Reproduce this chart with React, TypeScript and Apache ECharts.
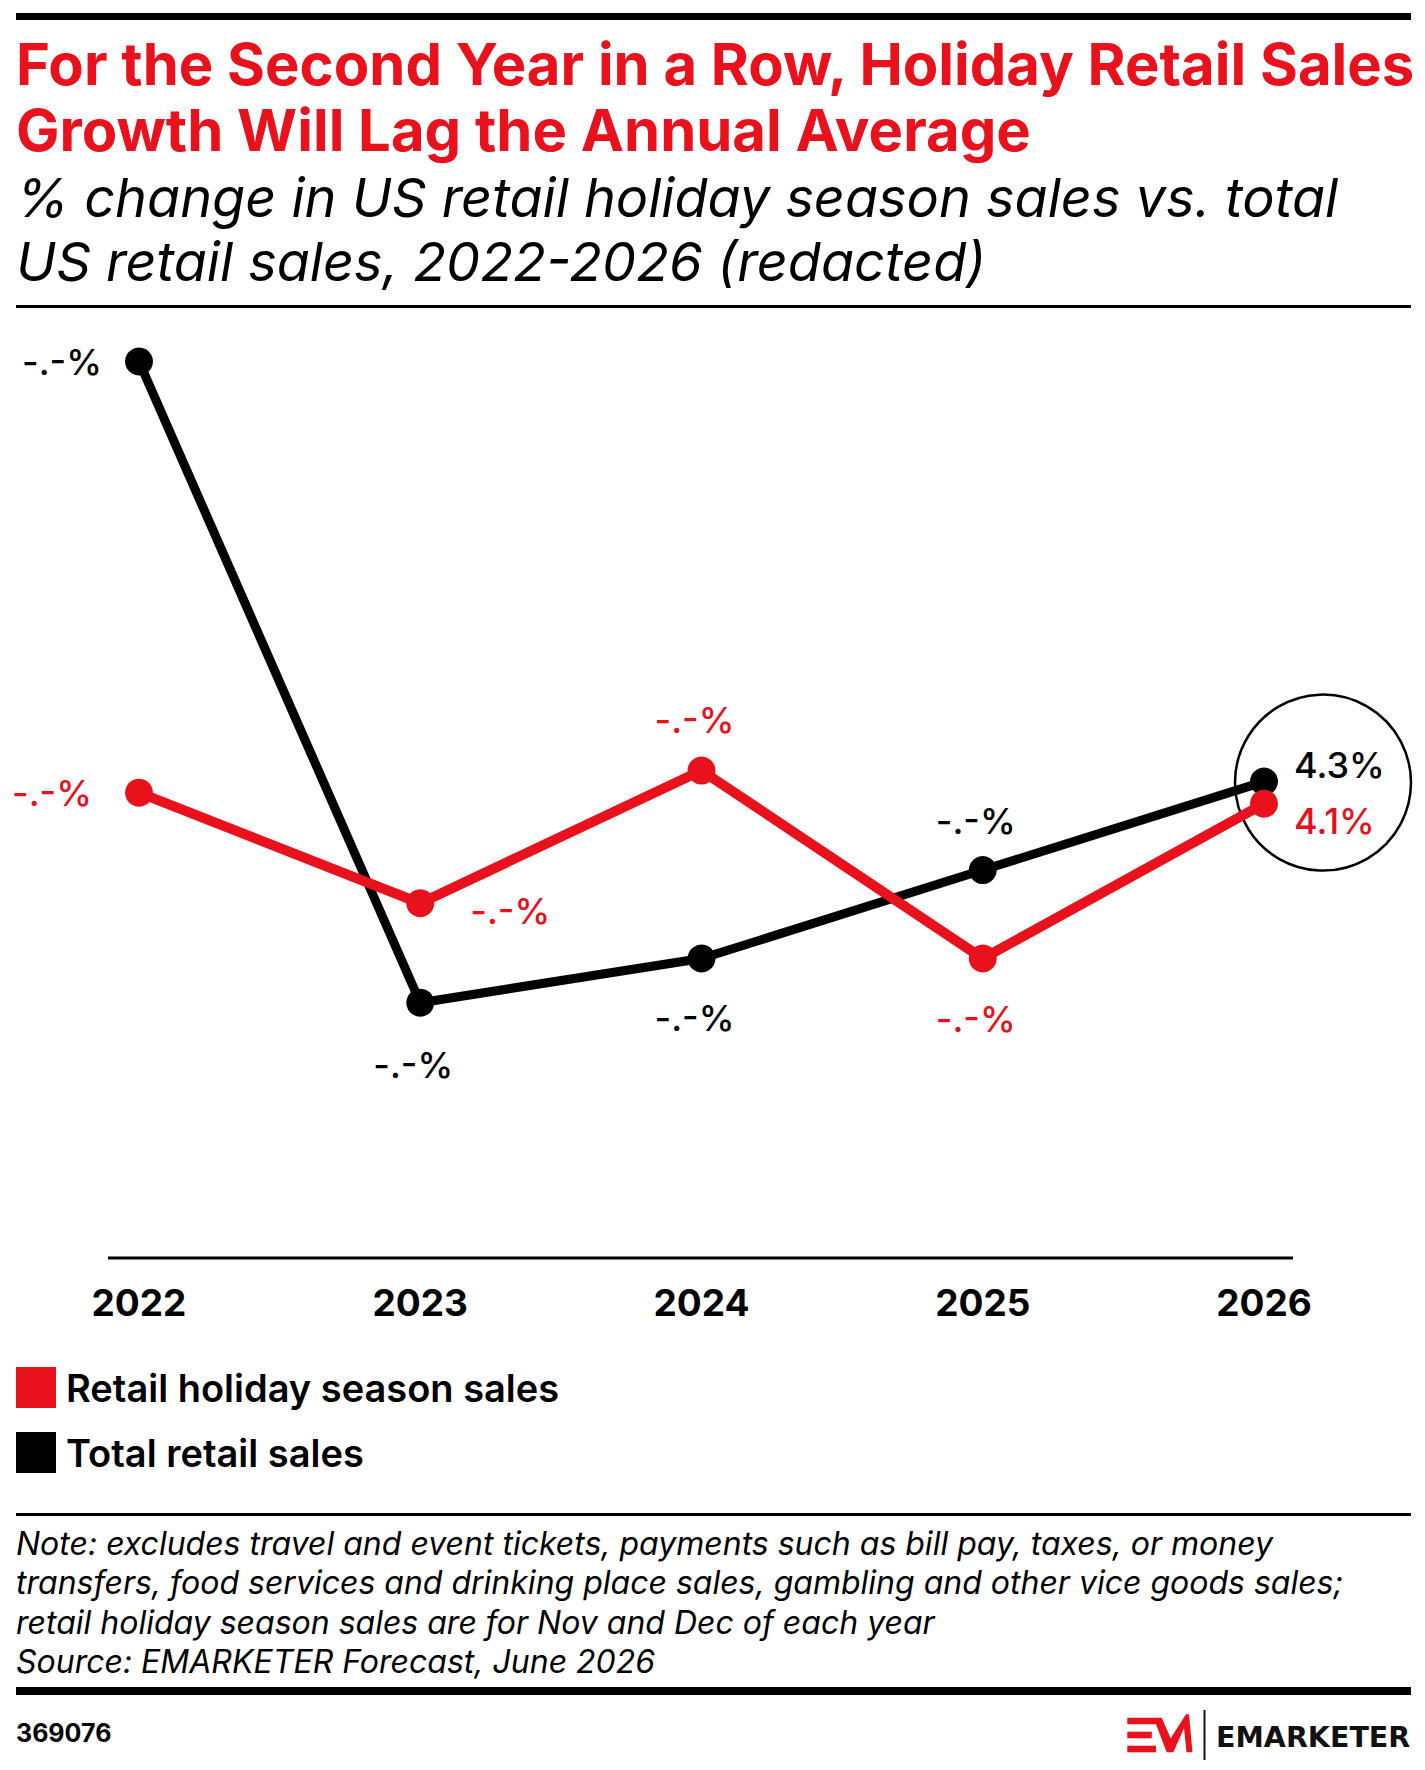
import React, { useEffect, useRef } from "react";
import * as echarts from "echarts";

// ---- data -------------------------------------------------------------
const years = ["2022", "2023", "2024", "2025", "2026"];
const holidaySales = [4.2, 3.2, 4.4, 2.7, 4.1];
const totalSales = [8.1, 2.3, 2.7, 3.5, 4.3];
// only the last forecast year is published, earlier values are redacted
const publishedYear = "2026";
const redactedLabel = "-.-%";
const seriesNames = ["Retail holiday season sales", "Total retail sales"];

const titleLines = [
  "For the Second Year in a Row, Holiday Retail Sales",
  "Growth Will Lag the Annual Average",
];
const subtitleLines = [
  "% change in US retail holiday season sales vs. total",
  "US retail sales, 2022-2026 (redacted)",
];
const noteLines = [
  "Note: excludes travel and event tickets, payments such as bill pay, taxes, or money",
  "transfers, food services and drinking place sales, gambling and other vice goods sales;",
  "retail holiday season sales are for Nov and Dec of each year",
  "Source: EMARKETER Forecast, June 2026",
];
const chartNumber = "369076";
const brandName = "EMARKETER";

// ---- styling ----------------------------------------------------------
const RED = "#e8111c";
const INK = "#000000";
const FONT = "Inter, 'Noto Sans', sans-serif";
const W = 1425;
const H = 1770;

type Place = { position: string; distance: number; offset?: number[] };
const holidayPlaces: Place[] = [
  { position: "left", distance: 33 },
  { position: "right", distance: 36, offset: [0, 8] },
  { position: "top", distance: 19, offset: [-7, 0] },
  { position: "bottom", distance: 28, offset: [-7, 0] },
  { position: "right", distance: 16, offset: [0, 17] },
];
const totalPlaces: Place[] = [
  { position: "left", distance: 23 },
  { position: "bottom", distance: 30, offset: [-7, 0] },
  { position: "bottom", distance: 27, offset: [-7, 0] },
  { position: "top", distance: 17, offset: [-7, 0] },
  { position: "right", distance: 16, offset: [0, -17] },
];

function pointLabel(value: number, year: string) {
  return year === publishedYear ? `${value.toFixed(1)}%` : redactedLabel;
}

function buildSeries(name: string, values: number[], places: Place[], color: string, width: number) {
  return {
    name,
    type: "line",
    symbol: "circle",
    symbolSize: 28,
    lineStyle: { color, width },
    itemStyle: { color },
    emphasis: { disabled: true },
    data: values.map((v, i) => ({
      value: v,
      label: {
        show: true,
        position: places[i].position,
        distance: places[i].distance,
        offset: places[i].offset || [0, 0],
        formatter: () => pointLabel(v, years[i]),
        color,
        fontFamily: FONT,
        fontSize: 36,
        fontWeight: 500,
        lineHeight: 36,
      },
    })),
  };
}

function rule(y: number, h: number) {
  return { type: "rect", shape: { x: 16, y, width: 1395, height: h }, style: { fill: INK }, silent: true };
}

function text(str: string, x: number, y: number, font: any, fill: string) {
  return {
    type: "text",
    x,
    y,
    silent: true,
    style: {
      text: str,
      fill,
      align: "left",
      verticalAlign: "middle",
      ...font,
    },
  };
}

function staticGraphics() {
  const items: any[] = [];
  items.push(rule(13, 7));
  titleLines.forEach((t, i) =>
    items.push(text(t, 16, 64 + i * 66, { fontFamily: FONT, fontSize: 58, fontWeight: 700 }, RED))
  );
  subtitleLines.forEach((t, i) =>
    items.push(
      text(t, 16, 197 + i * 64, { fontFamily: FONT, fontSize: 54, fontWeight: 400, fontStyle: "italic" }, INK)
    )
  );
  items.push(rule(305, 3));
  // category axis rule, slightly wider than the plotted range
  items.push({ type: "rect", shape: { x: 108, y: 1256.5, width: 1185, height: 3 }, style: { fill: INK }, silent: true });
  items.push(rule(1513, 3));
  noteLines.forEach((t, i) =>
    items.push(
      text(t, 16, 1543 + i * 39.5, { fontFamily: FONT, fontSize: 32, fontWeight: 400, fontStyle: "italic" }, INK)
    )
  );
  items.push(rule(1687, 8));
  items.push(text(chartNumber, 16, 1733, { fontFamily: FONT, fontSize: 25, fontWeight: 700 }, INK));
  // brand mark: three bars forming the E, joined to the M
  items.push({
    type: "polygon",
    silent: true,
    shape: {
      points: [
        [1127.3, 1717.7],
        [1161.7, 1717.7],
        [1170.7, 1738.3],
        [1186, 1714.3],
        [1189, 1714.3],
        [1192.5, 1752.3],
        [1186.5, 1752.3],
        [1184, 1728.3],
        [1173.3, 1752.3],
        [1166.7, 1752.3],
        [1156, 1724.3],
        [1127.3, 1724.3],
      ],
    },
    style: { fill: RED },
  });
  items.push({ type: "rect", silent: true, shape: { x: 1127.3, y: 1731.7, width: 24.5, height: 6.6 }, style: { fill: RED } });
  items.push({ type: "rect", silent: true, shape: { x: 1127.3, y: 1745.7, width: 28.7, height: 6.6 }, style: { fill: RED } });
  items.push({
    type: "line",
    silent: true,
    shape: { x1: 1204.5, y1: 1710, x2: 1204.5, y2: 1760 },
    style: { stroke: "#111", lineWidth: 2 },
  });
  items.push(text(brandName, 1216, 1737, { fontFamily: "'DejaVu Sans', sans-serif", fontSize: 28.5, fontWeight: 700 }, "#111"));
  return items;
}

export default function App() {
  const ref = useRef<HTMLDivElement>(null);

  useEffect(() => {
    if (!ref.current) return;
    const chart = echarts.init(ref.current, undefined, { renderer: "svg", width: W, height: H });
    chart.setOption({
      animation: false,
      backgroundColor: "#ffffff",
      grid: { left: 139, right: 161, top: 262, bottom: 513 },
      xAxis: {
        type: "category",
        data: years,
        boundaryGap: false,
        axisLine: { show: false },
        axisTick: { show: false },
        axisLabel: {
          margin: 45,
          verticalAlign: "middle",
          color: INK,
          fontFamily: FONT,
          fontSize: 37,
          fontWeight: 700,
        },
        splitLine: { show: false },
      },
      yAxis: {
        type: "value",
        min: 0,
        max: 9,
        show: false,
        splitLine: { show: false },
      },
      legend: {
        orient: "vertical",
        left: 16,
        top: 1367,
        padding: 0,
        itemGap: 24,
        itemWidth: 40,
        itemHeight: 41,
        icon: "rect",
        selectedMode: false,
        data: [
          { name: seriesNames[0], itemStyle: { color: RED } },
          { name: seriesNames[1], itemStyle: { color: INK } },
        ],
        textStyle: {
          color: INK,
          fontFamily: FONT,
          fontSize: 38,
          fontWeight: 600,
          padding: [0, 0, 0, 5],
        },
      },
      series: [
        buildSeries(seriesNames[1], totalSales, totalPlaces, INK, 9),
        buildSeries(seriesNames[0], holidaySales, holidayPlaces, RED, 10),
      ],
    });

    // callout ring around the published forecast values
    const last = years.length - 1;
    const anchor = chart.convertToPixel({ gridIndex: 0 }, [years[last], totalSales[last]]) as number[];
    chart.setOption({
      graphic: [
        ...staticGraphics(),
        {
          type: "circle",
          silent: true,
          shape: { cx: anchor[0] + 59, cy: anchor[1] + 1, r: 88 },
          style: { fill: "none", stroke: INK, lineWidth: 2.5 },
        },
      ],
    });

    return () => chart.dispose();
  }, []);

  return (
    <div
      ref={ref}
      style={{ position: "fixed", left: 0, top: 0, width: W, height: H, background: "#fff" }}
    />
  );
}
